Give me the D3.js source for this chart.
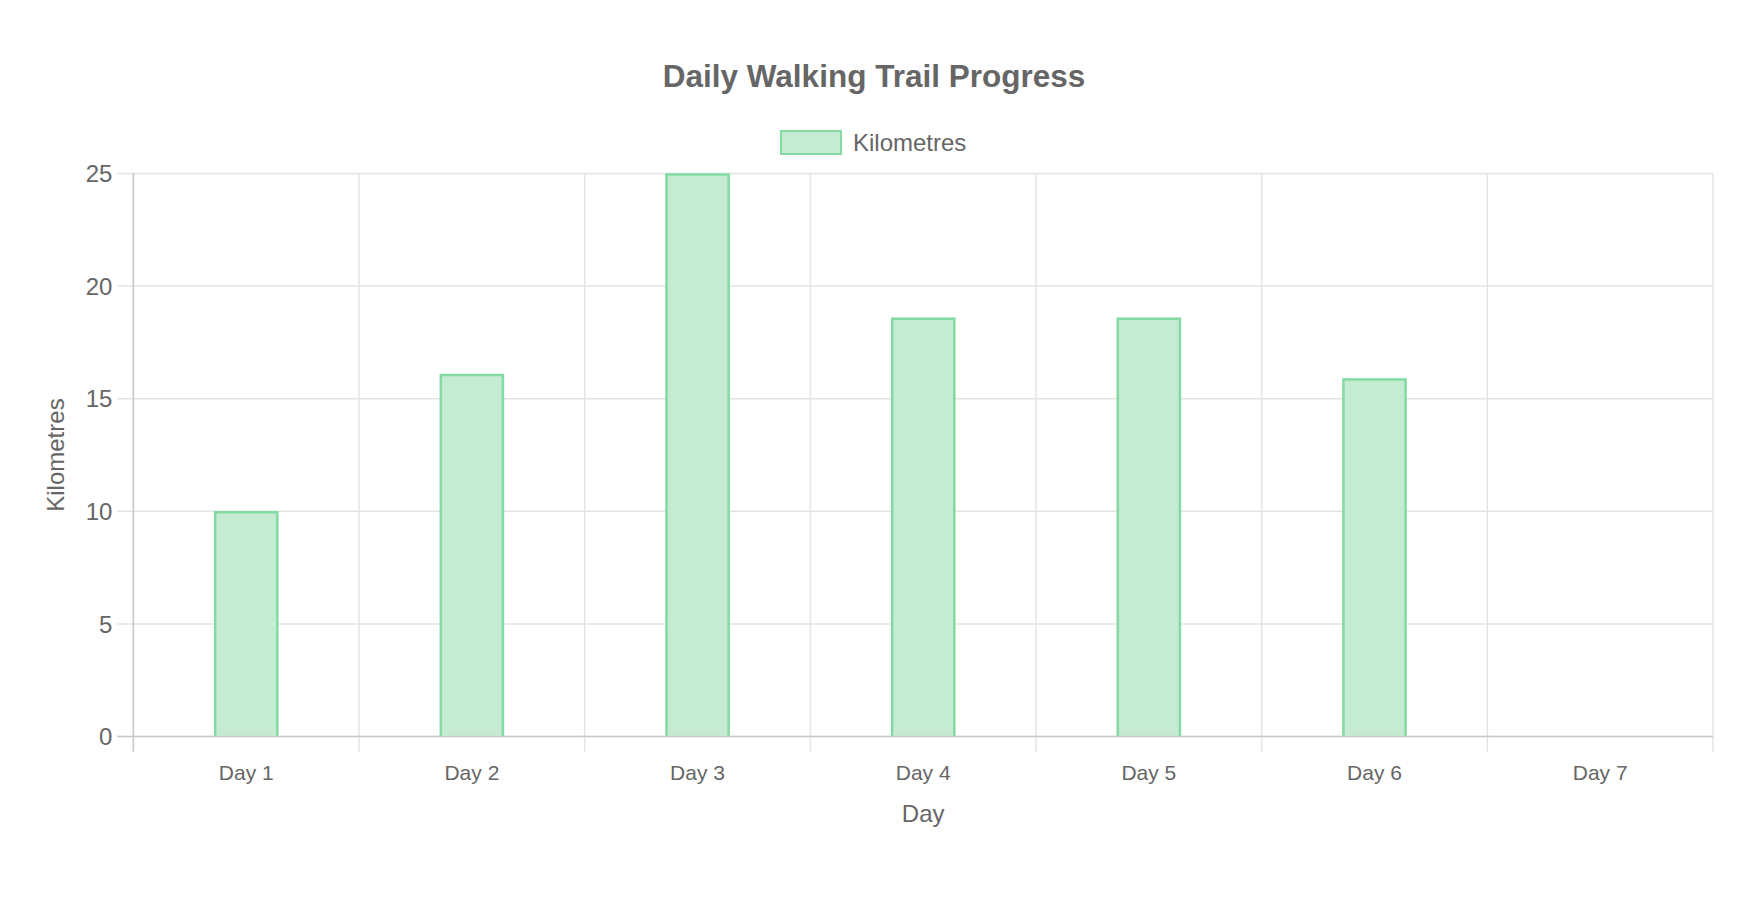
<!DOCTYPE html>
<html>
<head>
<meta charset="utf-8">
<script src="https://cdn.jsdelivr.net/npm/d3@7"></script>
<style>
  html, body { margin: 0; padding: 0; background: #fff; overflow: hidden; }
  #chart { width: 1758px; height: 914px; }
  #chart svg { display: block; }
  text { font-family: "Liberation Sans", Arial, Helvetica, sans-serif; }
</style>
</head>
<body>
<div id="chart"></div>
<script>
const days = ["Day 1", "Day 2", "Day 3", "Day 4", "Day 5", "Day 6", "Day 7"];
const kilometres = [10, 16.1, 25, 18.6, 18.6, 15.9, null];
const yTicks = [0, 5, 10, 15, 20, 25];

const width = 1758, height = 914;
const margin = { top: 173.5, right: 45, bottom: 177.4, left: 133.4 };
const innerWidth = width - margin.left - margin.right;
const innerHeight = height - margin.top - margin.bottom;

const textColor = "#666666";
const gridColor = "#e4e4e4";
const axisColor = "#c9c9c9";
const barFill = "#c6ebd3";
const barStroke = "#84dba2";

const svg = d3.select("#chart").append("svg")
    .attr("width", width)
    .attr("height", height);

// Judul
svg.append("text")
    .attr("x", 874)
    .attr("y", 87)
    .attr("text-anchor", "middle")
    .attr("fill", textColor)
    .attr("font-size", "31.5px")
    .attr("font-weight", "bold")
    .text("Daily Walking Trail Progress");

// Legend
const legend = svg.append("g");
legend.append("rect")
    .attr("x", 781)
    .attr("y", 131)
    .attr("width", 60)
    .attr("height", 23)
    .attr("fill", barFill)
    .attr("stroke", barStroke)
    .attr("stroke-width", 2);
legend.append("text")
    .attr("x", 853)
    .attr("y", 151)
    .attr("fill", textColor)
    .attr("font-size", "24px")
    .text("Kilometres");

const g = svg.append("g")
    .attr("transform", `translate(${margin.left},${margin.top})`);

const x = d3.scaleBand()
    .domain(days)
    .range([0, innerWidth])
    .padding(0);

const y = d3.scaleLinear()
    .domain([0, 25])
    .range([innerHeight, 0]);

// Grid horizontal (dengan tick kecil di kiri)
g.append("g")
    .selectAll("line")
    .data(yTicks)
    .join("line")
    .attr("x1", -16)
    .attr("x2", innerWidth)
    .attr("y1", d => y(d))
    .attr("y2", d => y(d))
    .attr("stroke", gridColor)
    .attr("stroke-width", 1.5);

// Grid vertikal di batas kategori
const xEdges = days.map(d => x(d)).concat([innerWidth]);
g.append("g")
    .selectAll("line")
    .data(xEdges)
    .join("line")
    .attr("x1", d => d)
    .attr("x2", d => d)
    .attr("y1", 0)
    .attr("y2", innerHeight + 15)
    .attr("stroke", gridColor)
    .attr("stroke-width", 1.5);

// Bars
const barW = x.bandwidth() * 0.284;
const bars = g.append("g")
    .selectAll("g")
    .data(days.map((d, i) => ({ day: d, value: kilometres[i] })).filter(d => d.value != null))
    .join("g");

bars.append("rect")
    .attr("x", d => x(d.day) + x.bandwidth() / 2 - barW / 2)
    .attr("y", d => y(d.value))
    .attr("width", barW)
    .attr("height", d => y(0) - y(d.value))
    .attr("fill", barFill);

// border tanpa sisi bawah (mirip borderSkipped)
bars.append("path")
    .attr("d", d => {
        const x0 = x(d.day) + x.bandwidth() / 2 - barW / 2 + 1;
        const x1 = x0 + barW - 2;
        const y0 = y(d.value) + 1;
        return `M${x0},${y(0)}V${y0}H${x1}V${y(0)}`;
    })
    .attr("fill", "none")
    .attr("stroke", barStroke)
    .attr("stroke-width", 2.5);

// Axis lines
g.append("line")
    .attr("x1", 0).attr("x2", 0)
    .attr("y1", 0).attr("y2", innerHeight + 15)
    .attr("stroke", axisColor)
    .attr("stroke-width", 1.5);
g.append("line")
    .attr("x1", -16).attr("x2", innerWidth)
    .attr("y1", innerHeight).attr("y2", innerHeight)
    .attr("stroke", axisColor)
    .attr("stroke-width", 1.5);

// Y tick labels
g.append("g")
    .selectAll("text")
    .data(yTicks)
    .join("text")
    .attr("x", -21)
    .attr("y", d => y(d))
    .attr("dy", "0.36em")
    .attr("text-anchor", "end")
    .attr("fill", textColor)
    .attr("font-size", "24px")
    .text(d => d);

// X tick labels
g.append("g")
    .selectAll("text")
    .data(days)
    .join("text")
    .attr("x", d => x(d) + x.bandwidth() / 2)
    .attr("y", innerHeight + 43)
    .attr("text-anchor", "middle")
    .attr("fill", textColor)
    .attr("font-size", "21px")
    .text(d => d);

// Judul sumbu
g.append("text")
    .attr("x", innerWidth / 2)
    .attr("y", innerHeight + 85)
    .attr("text-anchor", "middle")
    .attr("fill", textColor)
    .attr("font-size", "24px")
    .text("Day");

g.append("text")
    .attr("transform", `translate(${56 - margin.left + 8},${innerHeight / 2}) rotate(-90)`)
    .attr("text-anchor", "middle")
    .attr("fill", textColor)
    .attr("font-size", "24px")
    .text("Kilometres");
</script>
</body>
</html>
